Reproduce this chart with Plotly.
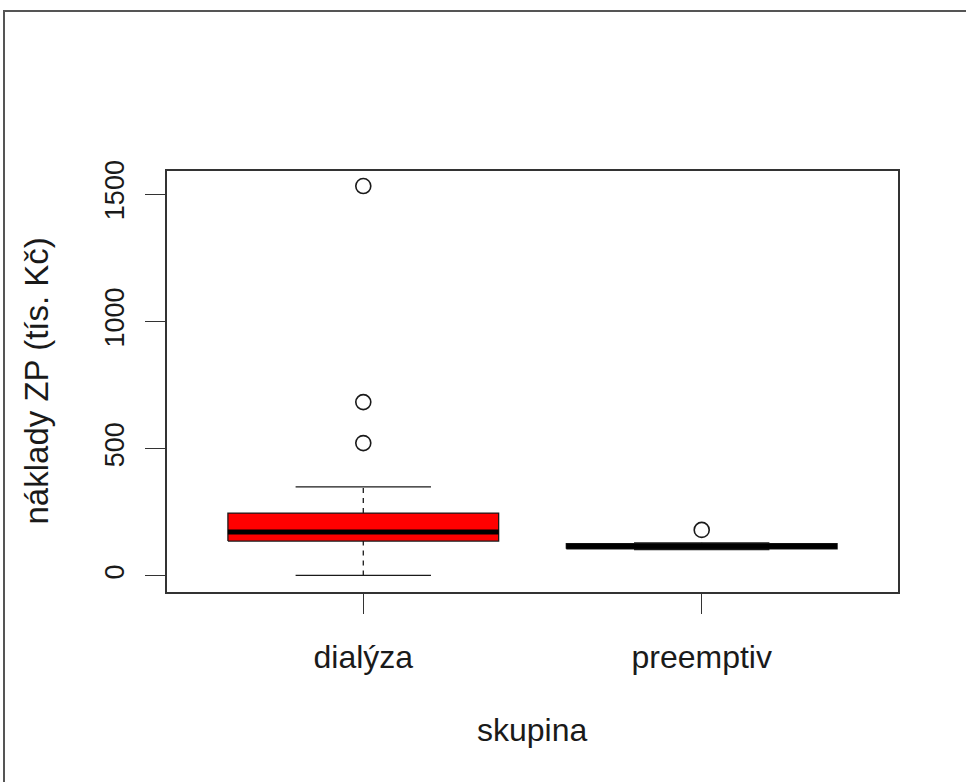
import plotly.graph_objects as go

# ---- data ----
groups = ["dialýza", "preemptiv"]
q1 = [137, 107]
median = [173, 117]
q3 = [247, 127]
lower_whisker = [2, 104]
upper_whisker = [350, 130]
outliers = [[522, 683, 1532], [181]]
fill_colors = ["#ff0000", "#ffffff"]

y_ticks = [0, 500, 1000, 1500]
y_title = "náklady ZP (tís. Kč)"
x_title = "skupina"

FONT = "Liberation Sans"
INK = "#1a1a1a"
BOX_HALF = 0.4
STAPLE_HALF = 0.2

fig = go.Figure()
positions = list(range(1, len(groups) + 1))

for pos, g, a, m, b, lo, hi, outs, fc in zip(positions, groups, q1, median, q3,
                                            lower_whisker, upper_whisker, outliers, fill_colors):
    # whiskers (dashed)
    fig.add_trace(go.Scatter(x=[pos, pos, None, pos, pos], y=[lo, a, None, b, hi],
                             mode="lines", line=dict(color=INK, width=1.3, dash="5px,5px"),
                             hoverinfo="skip", showlegend=False))
    # staples
    fig.add_trace(go.Scatter(x=[pos - STAPLE_HALF, pos + STAPLE_HALF, None, pos - STAPLE_HALF, pos + STAPLE_HALF],
                             y=[lo, lo, None, hi, hi],
                             mode="lines", line=dict(color=INK, width=1.3),
                             hoverinfo="skip", showlegend=False))
    # box
    fig.add_trace(go.Scatter(x=[pos - BOX_HALF, pos + BOX_HALF, pos + BOX_HALF, pos - BOX_HALF, pos - BOX_HALF],
                             y=[a, a, b, b, a], mode="lines", fill="toself", fillcolor=fc,
                             line=dict(color=INK, width=1.3), name=g, showlegend=False))
    # median
    fig.add_trace(go.Scatter(x=[pos - BOX_HALF, pos + BOX_HALF], y=[m, m], mode="lines",
                             line=dict(color="#000000", width=5), hoverinfo="skip", showlegend=False))
    # outliers
    fig.add_trace(go.Scatter(x=[pos] * len(outs), y=outs, mode="markers",
                             marker=dict(symbol="circle-open", size=15, color=INK, line=dict(width=1.6)),
                             showlegend=False))

L, R, T, B = 167, 68, 171, 190
W, H = 966, 782
pw, ph = W - L - R, H - T - B

fig.update_layout(
    width=W, height=H,
    margin=dict(l=L, r=R, t=T, b=B, pad=0),
    paper_bgcolor="white", plot_bgcolor="white",
    font=dict(family=FONT, size=22, color=INK),
    xaxis=dict(range=[0.42, 2.58], tickvals=positions, ticktext=groups,
               showgrid=False, zeroline=False, showline=True, mirror=True,
               linecolor="#333333", linewidth=1.5,
               ticks="outside", ticklen=20, tickcolor="#333333", tickwidth=1.3,
               ticklabelstandoff=16, tickfont=dict(size=32)),
    yaxis=dict(range=[-63, 1591], tickvals=y_ticks, ticktext=[str(v) for v in y_ticks],
               showgrid=False, zeroline=False, showline=True, mirror=True,
               linecolor="#333333", linewidth=1.5,
               ticks="outside", ticklen=20, tickcolor="#333333", tickwidth=1.3,
               tickangle=-90, ticklabelstandoff=10, tickfont=dict(size=27)),
    annotations=[
        dict(text=x_title, xref="paper", yref="paper", x=0.5, y=(592 - 730) / ph,
             showarrow=False, xanchor="center", yanchor="middle", font=dict(size=32)),
        dict(text=y_title, xref="paper", yref="paper", x=(36 - L) / pw, y=0.5,
             textangle=-90, showarrow=False, xanchor="center", yanchor="middle", font=dict(size=33)),
    ],
    shapes=[
        dict(type="rect", xref="paper", yref="paper",
             x0=(4 - L) / pw, x1=(W + 10 - L) / pw, y0=(T + ph - (H + 10)) / ph, y1=(T + ph - 11) / ph,
             line=dict(color="#555555", width=2), fillcolor="rgba(0,0,0,0)", layer="above"),
    ],
)

fig.write_html("out.html")
